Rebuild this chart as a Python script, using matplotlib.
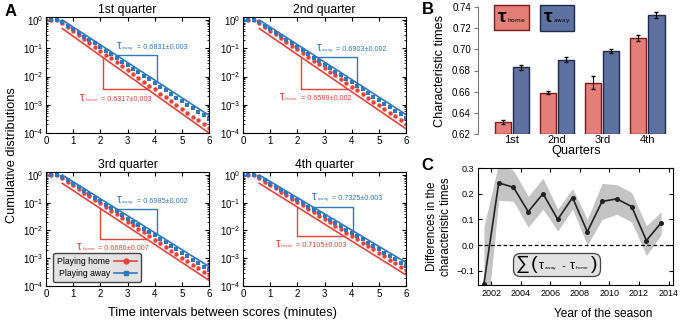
import numpy as np
import matplotlib
matplotlib.use('Agg')
import matplotlib.pyplot as plt
from matplotlib.lines import Line2D
from matplotlib.offsetbox import TextArea, HPacker, AnnotationBbox

plt.rcParams['font.family'] = ['Liberation Sans', 'DejaVu Sans']

red = '#e8433b'
blue = '#2f78c1'

# panel A: cumulative distributions of inter-score times (one list per quarter)
t = [0.0, 0.2, 0.4, 0.6, 0.8, 1.0, 1.2, 1.4, 1.6, 1.8, 2.0, 2.2, 2.4, 2.6, 2.8, 3.0,
     3.2, 3.4, 3.6, 3.8, 4.0, 4.2, 4.4, 4.6, 4.8, 5.0, 5.2, 5.4, 5.6, 5.8, 6.0]
home_q1 = [1.0, 1.0, 0.97, 0.76, 0.55, 0.40, 0.29, 0.21, 0.16, 0.11, 8.3e-2, 6.0e-2, 4.4e-2, 3.2e-2, 2.3e-2, 1.7e-2,
           1.2e-2, 9.0e-3, 6.6e-3, 4.8e-3, 3.5e-3, 2.5e-3, 1.85e-3, 1.35e-3, 9.8e-4, 7.2e-4, 5.2e-4, 3.8e-4, 2.8e-4, 2.0e-4, 1.5e-4]
away_q1 = [1.0, 1.0, 0.98, 0.85, 0.64, 0.47, 0.35, 0.26, 0.20, 0.15, 0.11, 8.2e-2, 6.1e-2, 4.5e-2, 3.4e-2, 2.5e-2,
           1.9e-2, 1.4e-2, 1.05e-2, 7.9e-3, 5.9e-3, 4.4e-3, 3.3e-3, 2.4e-3, 1.8e-3, 1.36e-3, 1.0e-3, 7.5e-4, 5.6e-4, 4.2e-4, 3.1e-4]
home_q2 = [1.0, 1.0, 0.97, 0.76, 0.56, 0.41, 0.31, 0.23, 0.17, 0.12, 9.1e-2, 6.7e-2, 4.9e-2, 3.6e-2, 2.7e-2, 2.0e-2,
           1.5e-2, 1.1e-2, 8.0e-3, 5.9e-3, 4.4e-3, 3.2e-3, 2.4e-3, 1.75e-3, 1.3e-3, 9.5e-4, 7.1e-4, 5.2e-4, 3.9e-4, 2.8e-4, 2.1e-4]
away_q2 = [1.0, 1.0, 0.98, 0.85, 0.64, 0.48, 0.36, 0.27, 0.20, 0.15, 0.11, 8.4e-2, 6.3e-2, 4.7e-2, 3.5e-2, 2.6e-2,
           2.0e-2, 1.5e-2, 1.1e-2, 8.3e-3, 6.2e-3, 4.6e-3, 3.5e-3, 2.6e-3, 1.9e-3, 1.45e-3, 1.1e-3, 8.1e-4, 6.1e-4, 4.6e-4, 3.4e-4]
home_q3 = [1.0, 1.0, 0.97, 0.76, 0.56, 0.42, 0.31, 0.23, 0.17, 0.13, 9.4e-2, 6.9e-2, 5.1e-2, 3.8e-2, 2.8e-2, 2.1e-2,
           1.55e-2, 1.15e-2, 8.5e-3, 6.3e-3, 4.7e-3, 3.5e-3, 2.6e-3, 1.9e-3, 1.4e-3, 1.05e-3, 7.8e-4, 5.8e-4, 4.3e-4, 3.2e-4, 2.4e-4]
away_q3 = [1.0, 1.0, 0.98, 0.85, 0.64, 0.48, 0.36, 0.27, 0.20, 0.15, 0.115, 8.6e-2, 6.5e-2, 4.9e-2, 3.7e-2, 2.7e-2,
           2.1e-2, 1.55e-2, 1.16e-2, 8.7e-3, 6.6e-3, 4.9e-3, 3.7e-3, 2.8e-3, 2.1e-3, 1.57e-3, 1.18e-3, 8.9e-4, 6.6e-4, 5.0e-4, 3.75e-4]
home_q4 = [1.0, 1.0, 0.97, 0.76, 0.57, 0.43, 0.33, 0.25, 0.19, 0.14, 0.11, 8.0e-2, 6.0e-2, 4.5e-2, 3.4e-2, 2.6e-2,
           1.95e-2, 1.5e-2, 1.1e-2, 8.4e-3, 6.4e-3, 4.8e-3, 3.6e-3, 2.7e-3, 2.1e-3, 1.56e-3, 1.17e-3, 8.9e-4, 6.7e-4, 5.0e-4, 3.8e-4]
away_q4 = [1.0, 1.0, 0.98, 0.85, 0.65, 0.49, 0.375, 0.29, 0.22, 0.165, 0.126, 9.6e-2, 7.3e-2, 5.5e-2, 4.2e-2, 3.2e-2,
           2.4e-2, 1.86e-2, 1.4e-2, 1.08e-2, 8.2e-3, 6.2e-3, 4.75e-3, 3.6e-3, 2.75e-3, 2.1e-3, 1.6e-3, 1.2e-3, 9.2e-4, 7.0e-4, 5.3e-4]
# fitted exponential lines (start, end)
fit_x = [0.6, 6.0]
fit_home = [[0.5, 1.0e-4], [0.5, 1.4e-4], [0.5, 1.6e-4], [0.5, 2.5e-4]]
fit_away = [[1.0, 4.2e-4], [1.0, 4.5e-4], [1.0, 5.0e-4], [1.0, 7.0e-4]]
quarter_titles = ['1st quarter', '2nd quarter', '3rd quarter', '4th quarter']
tau_home_txt = ['0.6317±0.003', '0.6589±0.002', '0.6686±0.007', '0.7105±0.003']
tau_away_txt = ['0.6831±0.003', '0.6903±0.002', '0.6985±0.002', '0.7325±0.003']

# panel B: characteristic times
quarters = ['1st', '2nd', '3rd', '4th']
tau_home = [0.6317, 0.6589, 0.6686, 0.7105]
tau_home_err = [0.002, 0.0015, 0.0065, 0.003]
tau_away = [0.6831, 0.6903, 0.6985, 0.7325]
tau_away_err = [0.0025, 0.002, 0.0017, 0.003]

# panel C: season differences
years = [2001.5, 2002.5, 2003.5, 2004.5, 2005.5, 2006.5, 2007.5, 2008.5, 2009.5, 2010.5, 2011.5, 2012.5, 2013.5]
diff = [-0.15, 0.242, 0.225, 0.13, 0.2, 0.1, 0.185, 0.052, 0.17, 0.18, 0.15, 0.018, 0.087]
diff_lo = [-0.4, 0.175, 0.17, 0.07, 0.14, 0.055, 0.14, 0.0, 0.1, 0.12, 0.09, -0.04, 0.04]
diff_hi = [0.07, 0.32, 0.29, 0.19, 0.26, 0.14, 0.22, 0.1, 0.24, 0.235, 0.205, 0.075, 0.13]

W, H = 686, 325


def px(l, top, r, b):
    return [l / W, 1 - b / H, (r - l) / W, (b - top) / H]


def tau_box(sub, color, tau_size, sub_size, rest=None, rest_size=5.2, bold=False):
    # big tau with a tiny subscript, optionally followed by plain text
    kids = [TextArea('τ', textprops=dict(color=color, fontsize=tau_size, weight='bold' if bold else 'normal')),
            TextArea(r'$_{\rm %s}$' % sub, textprops=dict(color=color, fontsize=sub_size))]
    if rest:
        kids.append(TextArea(rest, textprops=dict(color=color, fontsize=rest_size)))
    return HPacker(children=kids, align='baseline', pad=0, sep=0)


fig = plt.figure(figsize=(W / 100, H / 100), dpi=100)

homes = [home_q1, home_q2, home_q3, home_q4]
aways = [away_q1, away_q2, away_q3, away_q4]
boxes = [(46, 17, 209, 133), (243, 17, 406, 133), (46, 172, 209, 286), (243, 172, 406, 286)]
blue_tri = [(2.6, 4.1), (2.7, 4.2), (2.6, 4.1), (2.55, 4.05)]
red_tri = [(2.1, 3.75), (2.15, 3.85), (2.0, 3.7), (2.0, 3.7)]
red_txt_x = [1.25, 1.35, 1.15, 1.2]

for i in range(4):
    ax = fig.add_axes(px(*boxes[i]))
    ax.plot(fit_x, fit_home[i], color=red, lw=1.2)
    ax.plot(fit_x, fit_away[i], color=blue, lw=1.2)
    ax.plot(t, homes[i], 'o', color=red, ms=3.2, mew=0)
    ax.plot(t, aways[i], 's', color=blue, ms=3.5, mew=0)

    # slope brackets in log space
    lb = np.log10(fit_away[i])
    lr = np.log10(fit_home[i])
    bx1, bx2 = blue_tri[i]
    by1 = 10 ** np.interp(bx1, fit_x, lb)
    by2 = 10 ** np.interp(bx2, fit_x, lb)
    ax.plot([bx1, bx2, bx2], [by1, by1, by2], color=blue, lw=1.0)
    rx1, rx2 = red_tri[i]
    ry1 = 10 ** np.interp(rx1, fit_x, lr)
    ry2 = 10 ** np.interp(rx2, fit_x, lr)
    ax.plot([rx1, rx1, rx2], [ry1, ry2, ry2], color=red, lw=1.0)
    ab = AnnotationBbox(tau_box('away', blue, 8.5, 4.5, ' = ' + tau_away_txt[i]), (bx1, by1 * 1.2),
                        box_alignment=(0, 0), frameon=False, pad=0)
    ax.add_artist(ab)
    ab = AnnotationBbox(tau_box('home', red, 8.5, 4.5, ' = ' + tau_home_txt[i]), (red_txt_x[i], ry2 / 1.2),
                        box_alignment=(0, 1), frameon=False, pad=0)
    ax.add_artist(ab)

    ax.set_yscale('log')
    ax.set_ylim(1e-4, 1.28)
    ax.set_xlim(0, 6)
    ax.set_xticks(range(7))
    ax.set_yticks([1e-4, 1e-3, 1e-2, 1e-1, 1])
    ax.tick_params(which='both', direction='in', top=True, right=True, labelsize=7, pad=2)
    ax.tick_params(which='major', length=3)
    ax.tick_params(which='minor', length=1.5)
    ax.set_title(quarter_titles[i], fontsize=8.7, pad=3)

    if i == 2:
        handles = [Line2D([], [], color=red, marker='o', ms=3.5, lw=1.2),
                   Line2D([], [], color=blue, marker='s', ms=3.5, lw=1.2)]
        ax.legend(handles, ['Playing home', 'Playing away'], loc='lower left', bbox_to_anchor=(0.035, 0.02),
                  markerfirst=False, fontsize=6.2, handlelength=2.6, numpoints=1, fancybox=True,
                  framealpha=1, facecolor='#e2e2e2', edgecolor='#444444', borderpad=0.45,
                  labelspacing=0.35, handletextpad=0.5, borderaxespad=0.2)

fig.text(12 / W, 1 - 155 / H, 'Cumulative distributions', rotation=90, ha='center', va='center', fontsize=9.2)
fig.text(222 / W, 1 - 313 / H, 'Time intervals between scores (minutes)', ha='center', va='center', fontsize=9.2)

# panel B
axB = fig.add_axes(px(482, 7, 670, 134))
xq = np.arange(len(quarters))
home_c, home_e = '#e47e78', '#7a1c1a'
away_c, away_e = '#5d72a1', '#1e2a4a'
base = 0.62
axB.bar(xq - 0.2, np.array(tau_home) - base, 0.36, bottom=base, yerr=tau_home_err, color=home_c,
        edgecolor=home_e, lw=1, error_kw=dict(ecolor='k', elinewidth=0.8, capsize=1.5))
axB.bar(xq + 0.2, np.array(tau_away) - base, 0.36, bottom=base, yerr=tau_away_err, color=away_c,
        edgecolor=away_e, lw=1, error_kw=dict(ecolor='k', elinewidth=0.8, capsize=1.5))
axB.set_xlim(-0.66, 3.5)
axB.set_ylim(0.62, 0.74)
axB.set_yticks(np.arange(0.62, 0.7401, 0.02))
axB.set_yticklabels(['%.2f' % v for v in np.arange(0.62, 0.7401, 0.02)])
axB.set_xticks(xq)
axB.set_xticklabels(quarters, fontsize=8)
for s in ['top', 'right', 'bottom']:
    axB.spines[s].set_visible(False)
axB.spines['left'].set_color('#777777')
axB.spines['left'].set_position(('outward', 3))
axB.tick_params(axis='y', direction='out', length=3, color='#777777', labelsize=7, pad=2)
axB.tick_params(axis='x', length=0, pad=1)
axB.set_xlabel('Quarters', fontsize=9.2, labelpad=0)
axB.set_ylabel('Characteristic times', fontsize=9.2, labelpad=4)
for sub, fc, ec, x0 in [('home', home_c, home_e, 0.085), ('away', away_c, away_e, 0.33)]:
    ab = AnnotationBbox(tau_box(sub, 'k', 14, 6, bold=True), (x0, 0.985), xycoords='axes fraction',
                        box_alignment=(0, 1), frameon=True, pad=0.3,
                        bboxprops=dict(boxstyle='square,pad=0.3', fc=fc, ec=ec, lw=1))
    axB.add_artist(ab)

# panel C
axC = fig.add_axes(px(478, 168, 673, 285))
axC.fill_between(years, diff_lo, diff_hi, color='#c4c4c4', lw=0)
axC.axhline(0, ls='--', color='k', lw=0.9, dashes=(3, 2))
axC.plot(years, diff, color='#222222', marker='o', ms=2.6, lw=1.2)
axC.set_xlim(2001.1, 2014.3)
axC.set_ylim(-0.155, 0.3)
axC.set_xticks(range(2002, 2015, 2))
axC.set_yticks([-0.1, 0.0, 0.1, 0.2, 0.3])
axC.set_yticklabels(['\u22120.1', '0.0', '0.1', '0.2', '0.3'])
axC.tick_params(direction='in', top=True, right=True, labelsize=6.5, length=3, pad=3)
axC.set_xlabel('Year of the season', fontsize=8.6, labelpad=6)
axC.xaxis.set_label_coords(0.64, -0.2)
axC.set_ylabel('Differences in the\ncharacteristic times', fontsize=8.3, labelpad=3)
sum_kids = [TextArea('∑', textprops=dict(fontsize=14)),
            TextArea('(', textprops=dict(fontsize=14)),
            tau_box('away', 'k', 9, 4.5),
            TextArea(' - ', textprops=dict(fontsize=8)),
            tau_box('home', 'k', 9, 4.5),
            TextArea(')', textprops=dict(fontsize=14))]
sum_box = HPacker(children=sum_kids, align='baseline', pad=0, sep=1)
ab = AnnotationBbox(sum_box, (2006.4, -0.075), box_alignment=(0.5, 0.5), frameon=True, pad=0.2,
                    bboxprops=dict(boxstyle='round,pad=0.2,rounding_size=0.5', fc='#e2e2e2', ec='#444444', lw=0.9))
axC.add_artist(ab)

fig.text(5 / W, 1 - 12 / H, 'A', fontsize=12, weight='bold', va='center')
fig.text(422 / W, 1 - 10 / H, 'B', fontsize=12, weight='bold', va='center')
fig.text(421 / W, 1 - 166 / H, 'C', fontsize=12, weight='bold', va='center')

plt.savefig('out.png', dpi=100)
